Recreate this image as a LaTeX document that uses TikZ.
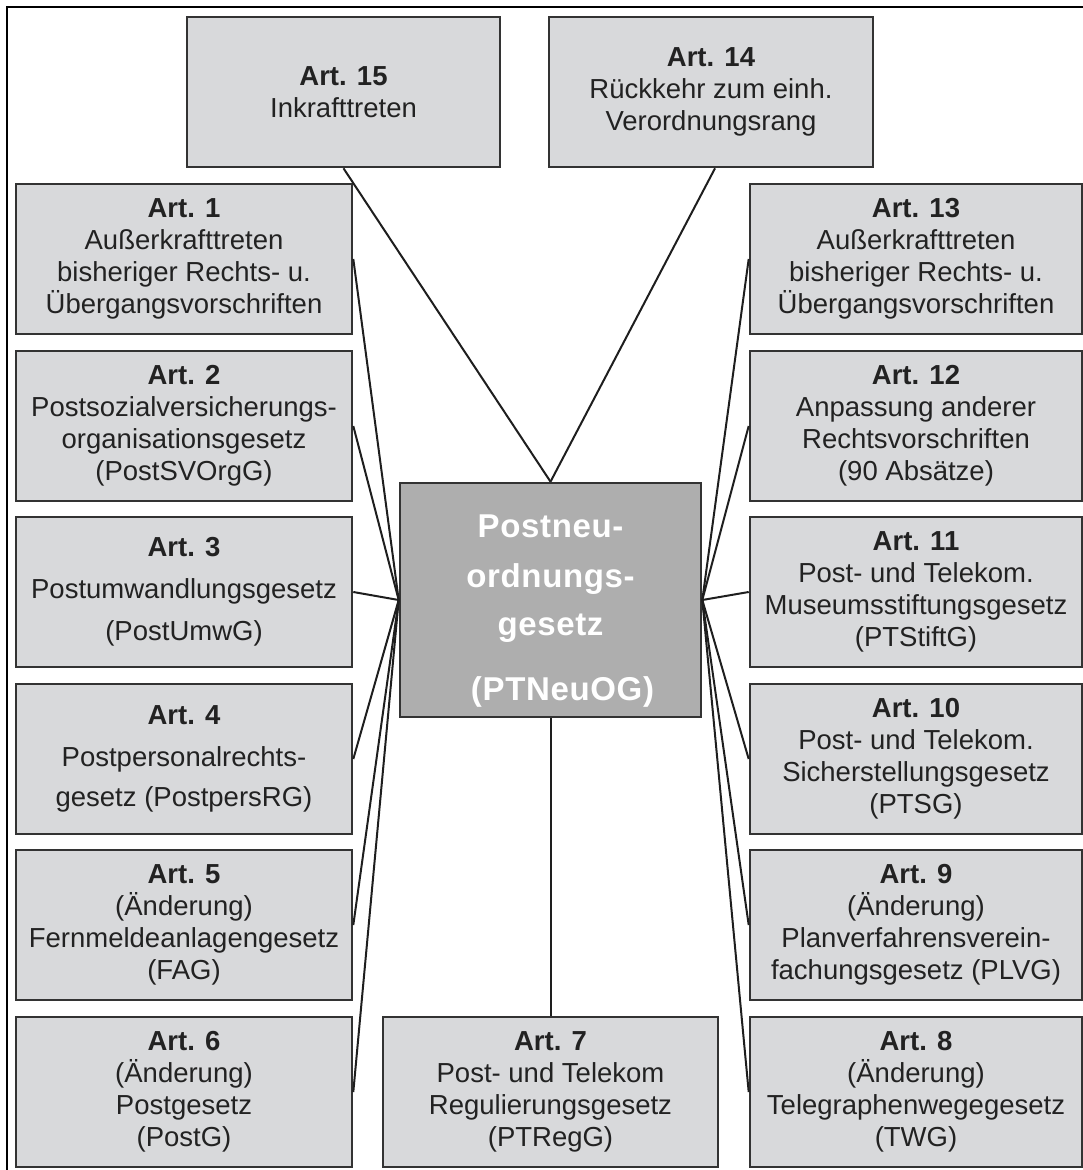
\documentclass[tikz,border=0pt]{standalone}
\usepackage{fontspec}
\setmainfont{Liberation Sans}
\newfontfamily\ctrfont[LetterSpace=2]{Liberation Sans}
\definecolor{boxfill}{HTML}{D8D9DB}
\definecolor{boxline}{HTML}{333333}
\definecolor{ctrfill}{HTML}{AEAEAE}
\definecolor{lineclr}{HTML}{1E1E1E}
\definecolor{txt}{HTML}{222222}
\begin{document}
\begin{tikzpicture}[x=1pt,y=-1pt,
  box/.style={draw=boxline, line width=2.6pt, fill=boxfill, minimum height=150pt,
    inner sep=0pt, align=center, text=txt, font=\fontsize{27.5}{32}\selectfont},
  lbox/.style={box, minimum width=336pt},
  rbox/.style={box, minimum width=332pt},
  ctrbox/.style={draw=boxline, line width=2.6pt, fill=ctrfill, minimum width=301pt,
    minimum height=234pt, inner sep=0pt, align=center, text=white,
    font=\ctrfont\bfseries\fontsize{33}{48}\selectfont},
  conn/.style={draw=lineclr, line width=2pt},
  frame/.style={draw=black, line width=2pt}]
\useasboundingbox (0,0) rectangle (1083,1170);
\draw[frame] (7,1185) -- (7,7) -- (1100,7);

% top
\node[box, minimum width=313pt] (a15) at (343.5,92) {\textbf{Art. 15}\\Inkrafttreten};
\node[box, minimum width=324pt] (a14) at (711,92) {\textbf{Art. 14}\\Rückkehr zum einh.\\Verordnungsrang};

% left column
\node[lbox] (a1) at (184,259) {\textbf{Art. 1}\\Außerkrafttreten\\bisheriger Rechts- u.\\Übergangsvorschriften};
\node[lbox] (a2) at (184,426) {\textbf{Art. 2}\\Postsozialversicherungs-\\organisationsgesetz\\(PostSVOrgG)};
\node[lbox] (a3) at (184,592) {\textbf{Art. 3}\\[10pt]Postumwandlungsgesetz\\[10pt](PostUmwG)};
\node[lbox] (a4) at (184,759) {\textbf{Art. 4}\\[10pt]Postpersonalrechts-\\[8pt]gesetz (PostpersRG)};
\node[lbox] (a5) at (184,925) {\textbf{Art. 5}\\(Änderung)\\Fernmeldeanlagengesetz\\(FAG)};
\node[lbox] (a6) at (184,1092) {\textbf{Art. 6}\\(Änderung)\\Postgesetz\\(PostG)};

% bottom middle
\node[box, minimum width=335pt] (a7) at (550.5,1092) {\textbf{Art. 7}\\Post- und Telekom\\Regulierungsgesetz\\(PTRegG)};

% right column
\node[rbox] (a13) at (916,259) {\textbf{Art. 13}\\Außerkrafttreten\\bisheriger Rechts- u.\\Übergangsvorschriften};
\node[rbox] (a12) at (916,426) {\textbf{Art. 12}\\Anpassung anderer\\Rechtsvorschriften\\(90 Absätze)};
\node[rbox] (a11) at (916,592) {\textbf{Art. 11}\\Post- und Telekom.\\Museumsstiftungsgesetz\\(PTStiftG)};
\node[rbox] (a10) at (916,759) {\textbf{Art. 10}\\Post- und Telekom.\\Sicherstellungsgesetz\\(PTSG)};
\node[rbox] (a9) at (916,925) {\textbf{Art. 9}\\(Änderung)\\Planverfahrensverein-\\fachungsgesetz (PLVG)};
\node[rbox] (a8) at (916,1092) {\textbf{Art. 8}\\(Änderung)\\Telegraphenwegegesetz\\(TWG)};

% centre
\node[ctrbox] (c) at (550.5,600) {\rule{0pt}{44pt}Postneu-\\[2pt]ordnungs-\\gesetz\\[17pt]\hspace*{24pt}(PTNeuOG)};

% connectors
\draw[conn] (a15.south) -- (c.north);
\draw[conn] ([xshift=4pt]a14.south) -- (c.north);
\foreach \n in {a1,a2,a3,a4,a5,a6} \draw[conn] (\n.east) -- (c.west);
\foreach \n in {a13,a12,a11,a10,a9,a8} \draw[conn] (\n.west) -- (c.east);
\draw[conn] (c.south) -- (a7.north);
\end{tikzpicture}
\end{document}
